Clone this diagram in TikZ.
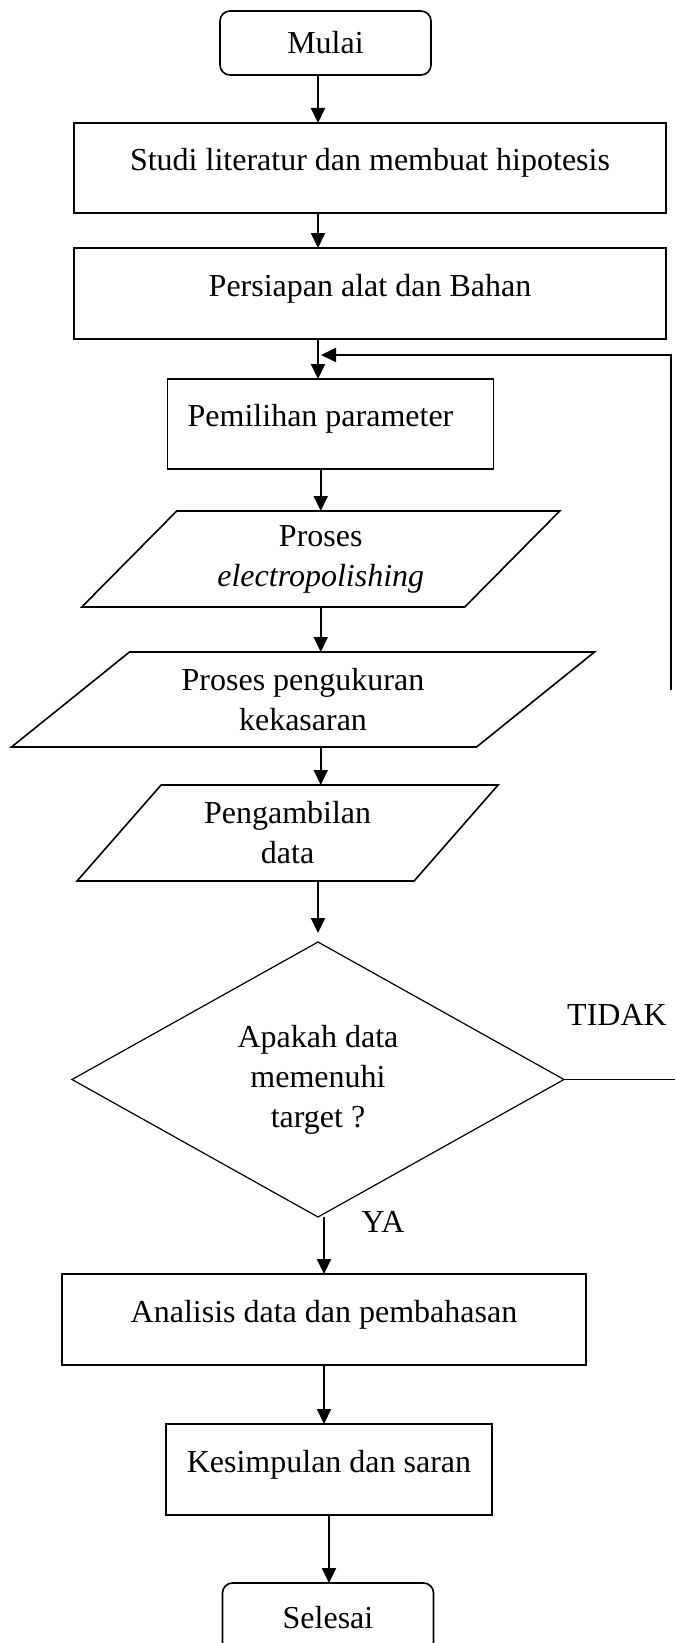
\documentclass[tikz,border=0pt]{standalone}
\usepackage{fontspec}
\setmainfont{Liberation Serif}
\usetikzlibrary{shapes.geometric,arrows.meta}

\begin{document}
\begin{tikzpicture}[x=0.5pt, y=-0.5pt,
    every node/.style={font=\fontsize{16}{20}\selectfont, outer sep=0pt, inner sep=0pt},
    ujung/.style={draw, rounded corners=5pt, line width=0.8pt, minimum width=105.5pt},
    proses/.style={draw, line width=0.8pt, text height=9.5pt, text depth=7pt},
    io/.style={align=center, minimum height=48pt},
    keputusan/.style={draw, diamond, line width=0.6pt, align=center, minimum width=246pt, minimum height=137.5pt},
    panah/.style={-{Triangle[length=7.5pt,width=7pt]}, line width=1pt},
    garis/.style={line width=0.8pt}]
  \useasboundingbox (0,0) rectangle (675,1643);

  % Start and process boxes
  \node[ujung, minimum height=32pt] (mulai) at (325.5,43) {Mulai};
  \node[proses, minimum width=296pt, minimum height=45pt] (studi) at (370,168) {Studi literatur dan membuat hipotesis};
  \node[proses, minimum width=296pt, minimum height=45.5pt] (persiapan) at (370,293.5) {Persiapan alat dan Bahan};
  \node[proses, minimum width=163pt, minimum height=45pt] (pemilihan) at (330.5,424) {Pemilihan parameter\hspace*{10pt}};

  % Input/output (parallelograms)
  \node[io, minimum width=191.5pt] (proses) at (320.75,559) {Proses\\\textit{electropolishing}};
  \node[io, minimum width=232.5pt, minimum height=47.5pt] (ukur) at (303,699.5) {Proses pengukuran\\kekasaran};
  \node[io, minimum width=168.5pt] (ambil) at (287.6,833) {Pengambilan\\data};
  \foreach \n/\s in {proses/23.75pt, ukur/29.5pt, ambil/21pt}
    \draw[garis] ([xshift=\s]\n.north west) -- ([xshift=\s]\n.north east)
      -- ([xshift=-\s]\n.south east) -- ([xshift=-\s]\n.south west) -- cycle;

  % Decision
  \node[keputusan] (cek) at (318,1079.5) {Apakah data\\memenuhi\\target ?};
  \node (tidak) at (617,1015) {TIDAK};
  \node (ya) at (383,1222) {YA};

  % End
  \node[proses, minimum width=262pt, minimum height=45.5pt] (analisis) at (324,1319.5) {Analisis data dan pembahasan};
  \node[proses, minimum width=163pt, minimum height=45.5pt] (simpul) at (329,1469.5) {Kesimpulan dan saran};
  \node[ujung, minimum height=35pt] (selesai) at (328,1618) {Selesai};

  % Arrows
  \draw[panah] (mulai.south -| cek) -- (studi.north -| cek);
  \draw[panah] (studi.south -| cek) -- (persiapan.north -| cek);
  \draw[panah] (persiapan.south -| cek) -- (pemilihan.north -| cek);
  \draw[panah] (pemilihan.south -| proses) -- (proses.north);
  \draw[panah] (proses.south) -- (ukur.north -| proses);
  \draw[panah] (ukur.south -| proses) -- (ambil.north -| proses);
  \draw[panah, shorten >=4.5pt] (ambil.south -| cek) -- (cek.north);
  \draw[panah] (cek.south -| analisis) -- (analisis.north);
  \draw[panah] (analisis.south) -- (analisis.south |- simpul.north);
  \draw[panah] (simpul.south) -- (simpul.south |- selesai.north);

  % Loop back (TIDAK)
  \coordinate (tepi) at (675,1079.5);
  \coordinate (balikbawah) at (671,690);
  \coordinate (balikatas) at (671,355);
  \draw[line width=0.6pt] (cek.east) -- (cek.east -| tepi);
  \draw[panah, shorten >=1.5pt] (balikbawah) -- (balikatas) -- (balikatas -| cek);
\end{tikzpicture}
\end{document}
